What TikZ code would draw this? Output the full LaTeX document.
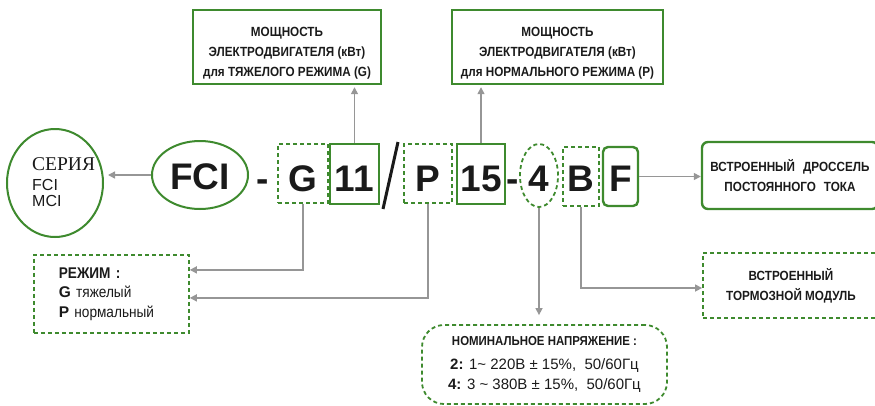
\documentclass[tikz,border=0pt]{standalone}
\usepackage{fontspec}
\setmainfont{Liberation Sans}
\newfontfamily\narrowfont[FakeStretch=0.88]{Liberation Sans}
\newfontfamily\seriesfont{Liberation Serif}
\usetikzlibrary{shapes.geometric,arrows.meta}
\definecolor{codegreen}{RGB}{62,138,46}
\definecolor{arrowgray}{RGB}{150,150,150}
\definecolor{inkblack}{RGB}{26,26,26}

\begin{document}
\begin{tikzpicture}[x=1pt,y=-1pt,
    solidbox/.style={draw=codegreen, line width=2.4pt, inner sep=0pt},
    dashbox/.style={draw=codegreen, line width=1.8pt, dash pattern=on 4pt off 3pt, inner sep=0pt},
    bigcode/.style={font=\bfseries\fontsize{37}{37}\selectfont, text=inkblack, text depth=0pt},
    label/.style={font=\narrowfont\bfseries\fontsize{13.3}{20}\selectfont, align=center, text=inkblack},
    arr/.style={draw=arrowgray, line width=1.4pt, -{Triangle[length=7pt,width=7pt]}}]
    % Picture frame (pixel units of the reference)
    \useasboundingbox (0,0) rectangle (875,405);

    % Series circle on the left
    \node[ellipse, draw=codegreen, line width=2pt, minimum width=96pt, minimum height=108pt] (series) at (55,183) {};
    \node[anchor=north west, align=left, inner sep=0pt, text=inkblack, font=\fontsize{16}{16}\selectfont] (serieslabel) at (32,157)
        {{\seriesfont\fontsize{19.5}{20}\selectfont СЕРИЯ}\\[4pt]FCI\\MCI};

    % Code letters
    \node[ellipse, draw=codegreen, line width=2pt, minimum width=96pt, minimum height=68pt, inner sep=0pt, bigcode, text height=28pt] (fci) at (200,175) {FCI};
    \node[bigcode, anchor=base, inner sep=0pt] (dash1) at (263,191) {-};
    \node[dashbox, bigcode, minimum width=50pt, minimum height=59pt, text height=35pt] (g) at (303,173.5) {G};
    \node[solidbox, bigcode, minimum width=49pt, minimum height=60pt, text height=34pt] (kw11) at (354.5,174) {11};
    \draw[inkblack, line width=3pt] (398,142) -- (383,209); % slash
    \node[dashbox, bigcode, minimum width=48pt, minimum height=59pt, text height=35pt] (p) at (428,173.5) {P};
    \node[solidbox, bigcode, minimum width=48pt, minimum height=60pt, text height=34pt] (kw15) at (481,174) {15};
    \node[bigcode, anchor=base, inner sep=0pt] (dash2) at (513,191) {-};
    \node[ellipse, dashbox, bigcode, minimum width=38pt, minimum height=63pt, text height=31pt] (volt) at (539,175.5) {4};
    \node[dashbox, bigcode, minimum width=36pt, minimum height=59pt, text height=29pt] (brake) at (581,176.5) {B};
    \node[solidbox, rounded corners=5pt, bigcode, minimum width=35pt, minimum height=59pt, text height=29pt] (choke) at (620.5,176.5) {F};

    % Description boxes
    \node[solidbox, minimum width=188pt, minimum height=74pt] (powerG) at (287,47) {};
    \node[label, anchor=north, inner sep=0pt] (powerGtext) at (287,27)
        {МОЩНОСТЬ\\ЭЛЕКТРОДВИГАТЕЛЯ (кВт)\\для ТЯЖЕЛОГО РЕЖИМА (G)};
    \node[solidbox, minimum width=211pt, minimum height=74pt] (powerP) at (557.5,47) {};
    \node[label, anchor=north, inner sep=0pt] (powerPtext) at (557.5,27)
        {МОЩНОСТЬ\\ЭЛЕКТРОДВИГАТЕЛЯ (кВт)\\для НОРМАЛЬНОГО РЕЖИМА (P)};
    \node[solidbox, rounded corners=6pt, label, minimum width=176pt, minimum height=67pt] (chokebox) at (790,175.5)
        {ВСТРОЕННЫЙ\hspace{8pt}ДРОССЕЛЬ\\ПОСТОЯННОГО\hspace{8pt}ТОКА};
    \node[dashbox, label, minimum width=176pt, minimum height=65pt] (brakebox) at (791,285.5)
        {ВСТРОЕННЫЙ\\ТОРМОЗНОЙ МОДУЛЬ};
    \node[dashbox, rounded corners=22pt, minimum width=245pt, minimum height=79pt, align=center, text=inkblack,
          font=\fontsize{15}{20}\selectfont] (voltbox) at (544.5,364.5)
        {{\narrowfont\bfseries\fontsize{13}{20}\selectfont НОМИНАЛЬНОЕ НАПРЯЖЕНИЕ :}\\[4pt]
         \textbf{2:} 1\~{} 220В ± 15\%,\ \ 50/60Гц\\
         \textbf{4:} 3 \~{} 380В ± 15\%,\ \ 50/60Гц};
    \node[dashbox, anchor=north west, minimum height=78pt, text width=105pt, inner xsep=25pt, align=left, text=inkblack,
          font=\fontsize{15.5}{19.5}\selectfont] (mode) at (33,254)
        {{\narrowfont\bfseries РЕЖИМ :}\\\textbf{G} {\narrowfont тяжелый}\\\textbf{P} {\narrowfont нормальный}};

    % Connectors
    \draw[arr, shorten >=4pt] (fci.west) -- (fci.west -| series.east);
    \draw[arr, shorten >=2pt] (kw11.north) -- (kw11.north |- powerG.south);
    \draw[arr, shorten >=2pt] (kw15.north) -- (kw15.north |- powerP.south);
    \draw[arr] (g.south) |- ([yshift=24pt]mode.east);
    \draw[arr] (p.south) |- ([yshift=-4pt]mode.east);
    \draw[arr, shorten >=9pt] (volt.south) -- (volt.south |- voltbox.north);
    \draw[arr] (brake.south) |- ([yshift=-2.5pt]brakebox.west);
    \draw[arr] (choke.east) -- (choke.east -| chokebox.west);
\end{tikzpicture}
\end{document}
